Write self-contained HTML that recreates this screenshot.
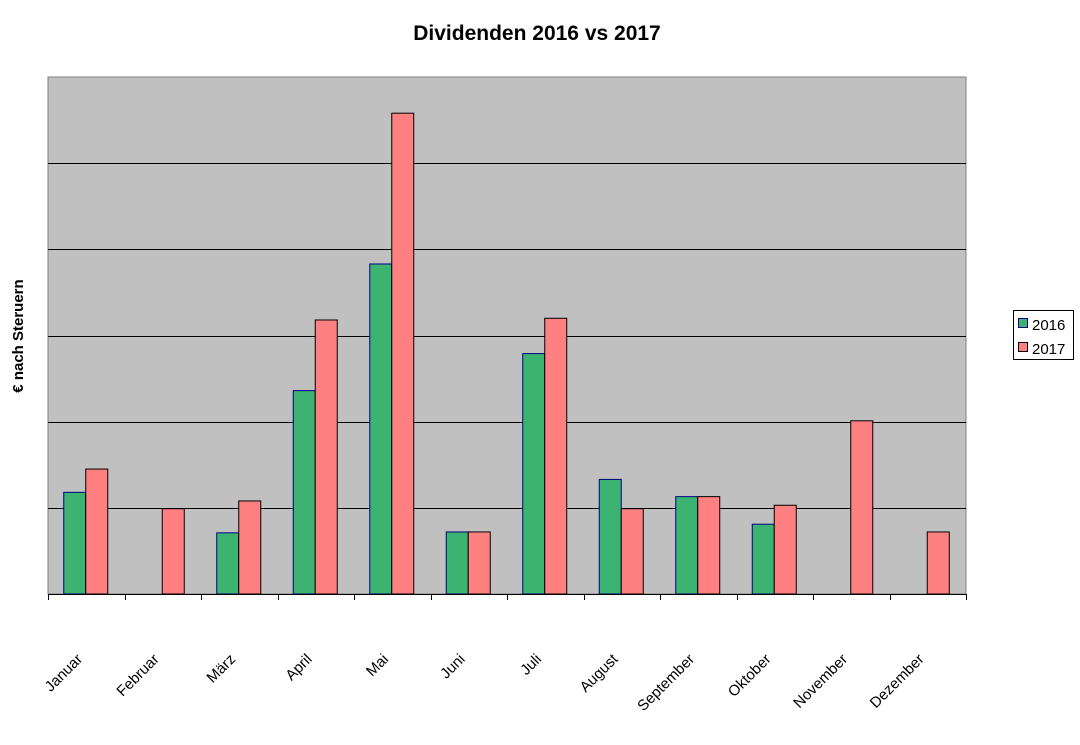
<!DOCTYPE html>
<html><head><meta charset="utf-8"><style>
body{margin:0;background:#fff;}
text{font-family:"Liberation Sans",Arial,sans-serif;}
</style></head><body>
<svg id="chart" width="1080" height="740" xmlns="http://www.w3.org/2000/svg">
<text x="537" y="40" text-anchor="middle" font-size="21" font-weight="bold">Dividenden 2016 vs 2017</text>
<text transform="translate(23,336) rotate(-90)" text-anchor="middle" font-size="15" font-weight="bold">€ nach Steruern</text>
<rect x="48" y="77" width="918" height="517" fill="#c0c0c0" stroke="#808080" stroke-width="1"/>
<g id="grid"></g>
<g id="bars"></g>
<g id="xaxis"></g>
<g>
<rect x="1013.5" y="310.5" width="60" height="49" fill="#fff" stroke="#000"/>
<g><rect x="1018.5" y="318.5" width="9" height="9" fill="#3cb371" stroke="#000080"/><text x="1032" y="330" font-size="15">2016</text></g>
<g><rect x="1018.5" y="342.5" width="9" height="9" fill="#ff8080" stroke="#000"/><text x="1032" y="354" font-size="15">2017</text></g>
</g>
</svg>
<script>
const categories=["Januar","Februar","März","April","Mai","Juni","Juli","August","September","Oktober","November","Dezember"];
const values2016=[1.18,0,0.71,2.36,3.83,0.72,2.79,1.33,1.13,0.81,0,0];
const values2017=[1.45,0.99,1.08,3.18,5.58,0.72,3.20,0.99,1.13,1.03,2.01,0.72];
const yTicks=[0,1,2,3,4,5,6];
const NS="http://www.w3.org/2000/svg";
const X0=48,X1=966,Y0=594,Y1=77,YMAX=6;
const bw=(X1-X0)/categories.length;
const y=v=>Y0-(v/YMAX)*(Y0-Y1);
const xc=i=>X0+bw*(i+0.5);
function mk(tag,attrs,parent){const e=document.createElementNS(NS,tag);for(const k in attrs)e.setAttribute(k,attrs[k]);parent.appendChild(e);return e;}
const grid=document.getElementById('grid'),bars=document.getElementById('bars'),xa=document.getElementById('xaxis');
yTicks.forEach(t=>{if(t===0||t===YMAX)return;const l=mk('line',{x1:X0,x2:X1,y1:Math.round(y(t))+0.5,y2:Math.round(y(t))+0.5,stroke:'#000'},grid);

});
const W=22;
categories.forEach((c,i)=>{
 const cx=xc(i)-1;
 if(values2016[i]>0){const r=mk('rect',{x:cx-W+0.5,y:y(values2016[i]),width:W,height:Y0-y(values2016[i]),fill:'#3cb371',stroke:'#000080'},bars);
 
 }
 if(values2017[i]>0){const r=mk('rect',{x:cx+0.5,y:y(values2017[i]),width:W,height:Y0-y(values2017[i]),fill:'#ff8080',stroke:'#000'},bars);
 
 }
 const t=mk('text',{transform:`translate(${cx-2},660) rotate(-45)`,'text-anchor':'end','font-size':'15'},xa);t.textContent=c;
 
 
});
const ax=mk('line',{x1:X0,x2:X1,y1:Y0+0.5,y2:Y0+0.5,stroke:'#000'},xa);


for(let i=0;i<=categories.length;i++){const tx=Math.round(X0+bw*i)+0.5;const tk=mk('line',{x1:tx,x2:tx,y1:Y0,y2:Y0+6,stroke:'#000'},xa);

}
</script>
</body></html>
